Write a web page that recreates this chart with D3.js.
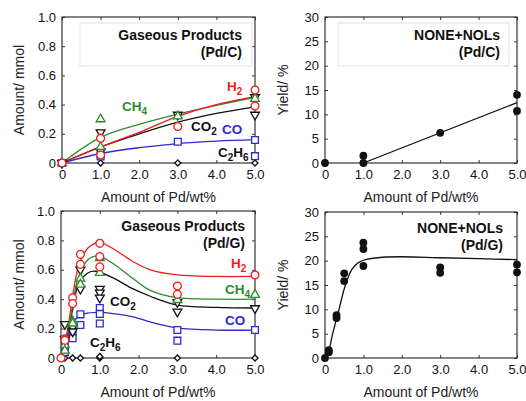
<!DOCTYPE html>
<html>
<head>
<meta charset="utf-8">
<script src="https://cdn.jsdelivr.net/npm/d3@7"></script>
<style>
  body { margin: 0; background: #fff; }
  svg { font-family: "Liberation Sans", Arial, sans-serif; }
  .tick text { font-size: 13px; fill: #111; }
</style>
</head>
<body>
<div id="chart"></div>
<script>
// ---- data ----
const xTicks = [0, 1, 2, 3, 4, 5];
const amountTicks = [0, 0.2, 0.4, 0.6, 0.8, 1.0];
const yieldTicks = [0, 5, 10, 15, 20, 25, 30];

// Pd/C gaseous products [wt%, mmol]
const pdcH2 = [[0, 0], [1, 0.17], [1, 0.055], [3, 0.25], [5, 0.50], [5, 0.39]];
const pdcCH4 = [[0, 0], [1, 0.30], [1, 0.11], [3, 0.32], [5, 0.44]];
const pdcCO2 = [[0, 0], [1, 0.21], [1, 0.08], [3, 0.33], [5, 0.45], [5, 0.33]];
const pdcCO = [[0, 0], [1, 0.06], [1, 0.045], [3, 0.145], [5, 0.157], [5, 0.047]];
const pdcC2H6 = [[0, 0], [1, 0], [3, 0], [5, 0]];
// fitted curves (Pd/C)
const pdcH2Fit = [[0, 0], [1, 0.11], [2, 0.21], [3, 0.32], [4, 0.40], [5, 0.455]];
const pdcCH4Fit = [[0, 0], [1, 0.175], [2, 0.265], [3, 0.335], [4, 0.395], [5, 0.45]];
const pdcCO2Fit = [[0, 0], [1, 0.11], [2, 0.20], [3, 0.28], [4, 0.34], [5, 0.385]];
const pdcCOFit = [[0, 0], [1, 0.065], [2, 0.105], [3, 0.133], [4, 0.15], [5, 0.16]];

// Pd/G gaseous products
const pdgH2 = [[0, 0], [0.1, 0.13], [0.1, 0.12], [0.3, 0.41], [0.3, 0.37], [0.5, 0.705], [0.5, 0.637],
  [1, 0.78], [1, 0.69], [1, 0.62], [3, 0.49], [3, 0.433], [5, 0.565]];
const pdgCH4 = [[0.1, 0.09], [0.1, 0.05], [0.3, 0.25], [0.3, 0.235], [0.5, 0.54], [0.5, 0.50],
  [1, 0.68], [1, 0.58], [3, 0.395], [5, 0.43]];
const pdgCO2 = [[0.1, 0.23], [0.1, 0.13], [0.3, 0.21], [0.3, 0.18], [0.5, 0.60], [0.5, 0.47],
  [1, 0.47], [1, 0.445], [1, 0.41], [3, 0.38], [3, 0.315], [5, 0.338]];
const pdgCO = [[0.1, 0.11], [0.1, 0.04], [0.3, 0.175], [0.3, 0.135], [0.5, 0.297], [0.5, 0.224],
  [1, 0.34], [1, 0.30], [1, 0.235], [3, 0.19], [3, 0.118], [5, 0.19]];
const pdgC2H6 = [[0.1, 0], [0.3, 0], [0.5, 0], [1, 0], [1, 0.01], [3, 0], [5, 0]];
// fitted curves (Pd/G)
const pdgH2Fit = [[0, 0], [0.1, 0.1], [0.2, 0.24], [0.3, 0.42], [0.45, 0.62], [0.7, 0.75], [1, 0.785],
  [1.3, 0.75], [1.86, 0.655], [2.3, 0.6], [3, 0.565], [4, 0.555], [5, 0.555]];
const pdgCH4Fit = [[0, 0], [0.1, 0.08], [0.2, 0.2], [0.3, 0.36], [0.45, 0.55], [0.7, 0.67], [0.95, 0.695],
  [1.3, 0.65], [1.86, 0.54], [2.3, 0.46], [3, 0.41], [4, 0.40], [5, 0.40]];
const pdgCO2Fit = [[0, 0], [0.1, 0.09], [0.2, 0.2], [0.3, 0.33], [0.45, 0.5], [0.7, 0.58], [0.9, 0.59],
  [1.3, 0.55], [1.86, 0.47], [2.3, 0.42], [3, 0.36], [4, 0.345], [5, 0.34]];
const pdgCOFit = [[0, 0], [0.1, 0.08], [0.2, 0.16], [0.36, 0.26], [0.6, 0.3], [1, 0.31], [1.4, 0.3],
  [1.86, 0.28], [2.3, 0.245], [3, 0.205], [4, 0.19], [5, 0.19]];

// NONE+NOLs yield [wt%, %]
const pdcYield = [[0, 0], [1, 1.5], [1, 0], [3, 6.2], [5, 14], [5, 10.7]];
const pdcYieldFit = [[1, 0], [5, 12.4]];
const pdgYield = [[0, 0], [0.1, 1.6], [0.1, 1.2], [0.3, 8.8], [0.3, 8.2], [0.5, 17.4], [0.5, 15.8],
  [1, 23.7], [1, 22.4], [1, 18.9], [3, 18.6], [3, 17.5], [5, 19.2], [5, 17.6]];
const pdgYieldFit = [[0.02, 0], [0.1, 1.5], [0.2, 5], [0.35, 9.5], [0.52, 14.7], [0.7, 18.2], [0.87, 19.6],
  [1.1, 20.3], [1.5, 20.7], [2, 20.8], [3, 20.6], [4, 20.4], [5, 20.2]];

const RED = "#f21b1b", GREEN = "#2a8c2a", BLUE = "#2b2bcf", BLACK = "#111";

const svg = d3.select("#chart").append("svg")
    .attr("width", 526)
    .attr("height", 401);

const fmt = function(d) { return d === 0 ? "0" : d3.format(".1f")(d); };

function panel(box, yMax, yTickVals, yFmt, yTitle, yTitleX) {
    const x = d3.scaleLinear().domain([0, 5]).range([box.left, box.right]);
    const y = d3.scaleLinear().domain([0, yMax]).range([box.bottom, box.top]);
    const g = svg.append("g");

    g.append("g")
        .attr("transform", "translate(0," + box.bottom + ")")
        .call(d3.axisBottom(x).tickValues(xTicks).tickFormat(fmt).tickSize(-3).tickSizeOuter(0).tickPadding(7));
    g.append("g")
        .attr("transform", "translate(0," + box.top + ")")
        .call(d3.axisTop(x).tickValues(xTicks).tickFormat("").tickSize(-3).tickSizeOuter(0));
    g.append("g")
        .attr("transform", "translate(" + box.left + ",0)")
        .call(d3.axisLeft(y).tickValues(yTickVals).tickFormat(yFmt).tickSize(-3).tickSizeOuter(0).tickPadding(6));
    g.append("g")
        .attr("transform", "translate(" + box.right + ",0)")
        .call(d3.axisRight(y).tickValues(yTickVals).tickFormat("").tickSize(-3).tickSizeOuter(0));
    g.selectAll(".domain").remove();
    g.selectAll(".tick line").attr("stroke", "#333");

    g.append("rect")
        .attr("x", box.left).attr("y", box.top)
        .attr("width", box.right - box.left).attr("height", box.bottom - box.top)
        .attr("fill", "none").attr("stroke", "#333").attr("stroke-width", 1.2);

    g.append("text")
        .attr("x", (box.left + box.right) / 2)
        .attr("y", box.bottom + 39)
        .attr("text-anchor", "middle")
        .style("font-size", "14px").attr("fill", "#222")
        .text("Amount of Pd/wt%");

    g.append("text")
        .attr("transform", "translate(" + yTitleX + "," + ((box.top + box.bottom) / 2) + ") rotate(-90)")
        .attr("text-anchor", "middle")
        .style("font-size", "14px").attr("fill", "#222")
        .text(yTitle);

    return { g: g, x: x, y: y };
}

function fitLine(p, data, color) {
    const line = d3.line()
        .x(function(d) { return p.x(d[0]); })
        .y(function(d) { return p.y(d[1]); })
        .curve(d3.curveCatmullRom.alpha(0.5));
    p.g.append("path").datum(data)
        .attr("d", line)
        .attr("fill", "none").attr("stroke", color).attr("stroke-width", 1.3);
}

const symbolTypes = {
    circle: d3.symbolCircle, square: d3.symbolSquare, up: d3.symbolTriangle,
    down: d3.symbolTriangle, diamond: d3.symbolSquare
};
const symbolSizes = { circle: 48, square: 46, up: 34, down: 34, diamond: 18 };
const symbolRotate = { down: 180, diamond: 45 };

function markers(p, data, shape, color, filled) {
    const sym = d3.symbol().type(symbolTypes[shape]).size(symbolSizes[shape]);
    p.g.append("g").selectAll("path")
        .data(data)
        .enter().append("path")
        .attr("transform", function(d) {
            return "translate(" + p.x(d[0]) + "," + p.y(d[1]) + ")" +
                (symbolRotate[shape] ? " rotate(" + symbolRotate[shape] + ")" : "");
        })
        .attr("d", sym)
        .attr("fill", filled ? color : "#fff")
        .attr("stroke", color)
        .attr("stroke-width", filled ? 0 : 1.3);
}

// label with optional subscripts: parts = [[text, isSub], ...]
function label(p, x, y, parts, color, anchor, size) {
    const t = p.g.append("text")
        .attr("x", x).attr("y", y)
        .attr("fill", color)
        .attr("text-anchor", anchor || "start")
        .style("font-size", (size || 13.5) + "px").style("font-weight", "bold");
    let down = false;
    parts.forEach(function(pt) {
        const s = t.append("tspan").text(pt[0]);
        if (pt[1] && !down) { s.attr("dy", 4).style("font-size", "10px"); down = true; }
        else if (pt[1]) { s.style("font-size", "10px"); }
        else if (down) { s.attr("dy", -4); down = false; }
    });
}

function legendBox(p, x0, y0, x1, y1) {
    p.g.append("rect")
        .attr("x", x0).attr("y", y0).attr("width", x1 - x0).attr("height", y1 - y0)
        .attr("fill", "#fff").attr("stroke", "#e2e2e2").attr("stroke-width", 1);
}

// ---- panel 1: Pd/C gaseous ----
const p1 = panel({ left: 62, right: 255, top: 17, bottom: 163 }, 1, amountTicks, fmt, "Amount/ mmol", 24);
legendBox(p1, 80, 23, 252, 66);
label(p1, 242, 40, [["Gaseous Products"]], "#111", "end", 14);
label(p1, 242, 57, [["(Pd/C)"]], "#111", "end", 14);
fitLine(p1, pdcCOFit, BLUE);
fitLine(p1, pdcCO2Fit, BLACK);
fitLine(p1, pdcCH4Fit, GREEN);
fitLine(p1, pdcH2Fit, RED);
markers(p1, pdcC2H6, "diamond", BLACK);
markers(p1, pdcCO, "square", BLUE);
markers(p1, pdcCO2, "down", BLACK);
markers(p1, pdcCH4, "up", GREEN);
markers(p1, pdcH2, "circle", RED);
label(p1, 122, 111, [["CH"], ["4", 1]], GREEN);
label(p1, 227, 91, [["H"], ["2", 1]], RED);
label(p1, 191, 131, [["CO"], ["2", 1]], BLACK);
label(p1, 222, 134, [["CO"]], BLUE);
label(p1, 218, 157, [["C"], ["2", 1], ["H"], ["6", 1]], BLACK);

// ---- panel 2: Pd/C yield ----
const p2 = panel({ left: 325, right: 517, top: 17, bottom: 163 }, 30, yieldTicks, d3.format("d"), "Yield/ %", 288);
legendBox(p2, 338, 23, 509, 66);
label(p2, 500, 40, [["NONE+NOLs"]], "#111", "end", 14);
label(p2, 500, 57, [["(Pd/C)"]], "#111", "end", 14);
fitLine(p2, pdcYieldFit, BLACK);
markers(p2, pdcYield, "circle", BLACK, true);

// ---- panel 3: Pd/G gaseous ----
const p3 = panel({ left: 61, right: 255, top: 211, bottom: 358 }, 1, amountTicks, fmt, "Amount/ mmol", 24);
label(p3, 245, 231, [["Gaseous Products"]], "#111", "end", 14);
label(p3, 245, 248, [["(Pd/G)"]], "#111", "end", 14);
fitLine(p3, pdgCOFit, BLUE);
fitLine(p3, pdgCO2Fit, BLACK);
fitLine(p3, pdgCH4Fit, GREEN);
fitLine(p3, pdgH2Fit, RED);
markers(p3, pdgC2H6, "diamond", BLACK);
markers(p3, pdgCO, "square", BLUE);
markers(p3, pdgCO2, "down", BLACK);
markers(p3, pdgCH4, "up", GREEN);
markers(p3, pdgH2, "circle", RED);
label(p3, 231, 268, [["H"], ["2", 1]], RED);
label(p3, 225, 294, [["CH"], ["4", 1]], GREEN);
label(p3, 110, 306, [["CO"], ["2", 1]], BLACK);
label(p3, 225, 325, [["CO"]], BLUE);
label(p3, 90, 347, [["C"], ["2", 1], ["H"], ["6", 1]], BLACK);

// ---- panel 4: Pd/G yield ----
const p4 = panel({ left: 325, right: 517, top: 212, bottom: 358 }, 30, yieldTicks, d3.format("d"), "Yield/ %", 288);
label(p4, 503, 233, [["NONE+NOLs"]], "#111", "end", 14);
label(p4, 503, 250, [["(Pd/G)"]], "#111", "end", 14);
fitLine(p4, pdgYieldFit, BLACK);
markers(p4, pdgYield, "circle", BLACK, true);
</script>
</body>
</html>
